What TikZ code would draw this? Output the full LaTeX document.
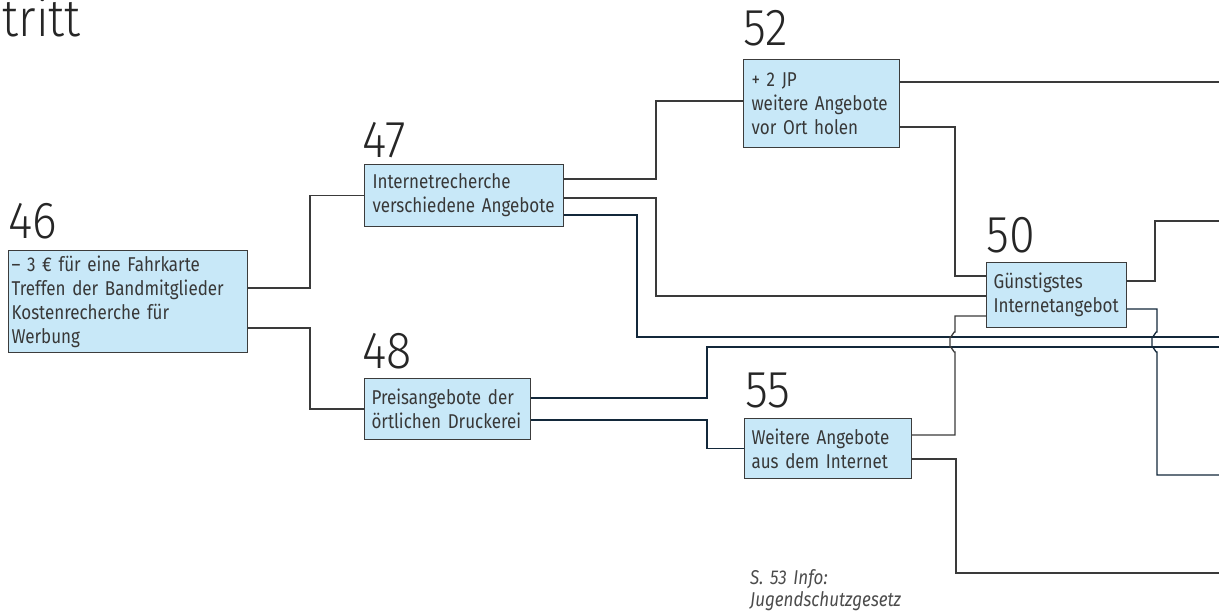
\documentclass[tikz,border=0pt]{standalone}
\usepackage{fontspec}
\setmainfont{Fira Sans}[FakeStretch=0.85]
\newfontfamily\numfont{Fira Sans Light}[FakeStretch=0.9]
\usetikzlibrary{arrows}
\definecolor{boxblue}{HTML}{C8E8F8}
\definecolor{boxline}{HTML}{3C3C3C}
\definecolor{wiregray}{HTML}{3A3A3A}
\definecolor{wiredark}{HTML}{13283A}
\definecolor{textgray}{HTML}{383838}

\tikzset{
  stepbox/.style={draw=boxline, line width=1.1pt, fill=boxblue, anchor=north west,
    align=left, inner xsep=7pt, inner ysep=0pt, text=textgray,
    font=\fontsize{20}{24}\selectfont},
  numlabel/.style={anchor=base west, inner sep=0pt, text=black!85,
    font=\numfont\fontsize{52}{52}\selectfont},
  wire/.style={draw=wiregray, line width=1.3pt},
  navywire/.style={draw=wiredark, line width=1.3pt},
}

\begin{document}
\begin{tikzpicture}[x=1pt, y=-1pt]
  \useasboundingbox (0,0) rectangle (1219,611);
  % heading (cut off)
  \node[numlabel, anchor=base east] (head) at (81,36) {tritt};
  % boxes
  \node[stepbox, inner xsep=3pt, text width=233pt, minimum height=102pt] (b46) at (8,250)
    {– 3 € für eine Fahrkarte\\Treffen der Bandmitglieder\\Kostenrecherche für\\Werbung};
  \node[stepbox, inner xsep=8pt, text width=183pt, minimum height=62pt] (b47) at (364,164)
    {Internetrecherche\\verschiedene Angebote};
  \node[stepbox, inner xsep=8pt, text width=140pt, minimum height=88pt] (b52) at (743,59)
    {+ 2 JP\\weitere Angebote\\vor Ort holen};
  \node[stepbox, text width=126pt, minimum height=65pt] (b50) at (986,262)
    {Günstigstes\\Internetangebot};
  \node[stepbox, text width=152pt, minimum height=61pt] (b48) at (364,378)
    {Preisangebote der\\örtlichen Druckerei};
  \node[stepbox, text width=153pt, minimum height=60pt] (b55) at (744,418)
    {Weitere Angebote\\aus dem Internet};
  % numbers
  \node[numlabel] (n46) at (8,238) {46};
  \node[numlabel] (n47) at (362,157) {47};
  \node[numlabel] (n52) at (743,45) {52};
  \node[numlabel] (n50) at (986,252) {50};
  \node[numlabel] (n48) at (362,368) {48};
  \node[numlabel] (n55) at (745,407) {55};
  % note
  \node[anchor=base west, inner sep=0pt, align=left, text width=170pt, text=black!70,
    font=\itshape\fontsize{20}{22}\selectfont] (note) at (750,584)
    {S. 53 Info:\\Jugendschutzgesetz};
  % free ends at the right edge
  \coordinate (e82) at (1219,82);
  \coordinate (e221) at (1219,221);
  \coordinate (e337) at (1219,337);
  \coordinate (e347) at (1219,347);
  \coordinate (e475) at (1219,475);
  \coordinate (e573) at (1219,573);
  % connectors
  \draw[wire] (b46.east |- 0,288) -- (310,288) |- (b47.west);
  \draw[wire] (b46.east |- 0,328) -- (310,328) |- (b48.west);
  \draw[wire] (b47.east |- 0,179) -- (656,179) |- (b52.west |- 0,101);
  \draw[wire] (b47.east |- 0,198) -- (656,198) |- (b50.west |- 0,296);
  \draw[navywire] (b47.east |- 0,215) -- (637,215) |- (e337);
  \draw[wire] (b52.east |- 0,82) -- (e82);
  \draw[wire] (b52.east |- 0,127) -- (955,127) |- (b50.west |- 0,276);
  \draw[navywire] (b48.east |- 0,398) -- (707,398) |- (e347);
  \draw[navywire] (b48.east |- 0,420) -- (707,420) |- (b55.west);
  \draw[wire] (b55.east |- 0,435) -- (955,435) -- (955,352)
    to[out=-90, in=90] (950,347) -- (950,337) to[out=-90, in=90] (955,332)
    |- (b50.west |- 0,316);
  \draw[wire] (b55.east |- 0,459) -- (956,459) |- (e573);
  \draw[wire] (b50.east |- 0,281) -- (1155,281) |- (e221);
  \draw[navywire] (b50.east |- 0,309) -- (1157,309) -- (1157,332)
    to[out=90, in=-90] (1152,337) -- (1152,347) to[out=90, in=-90] (1157,352)
    |- (e475);
\end{tikzpicture}
\end{document}
